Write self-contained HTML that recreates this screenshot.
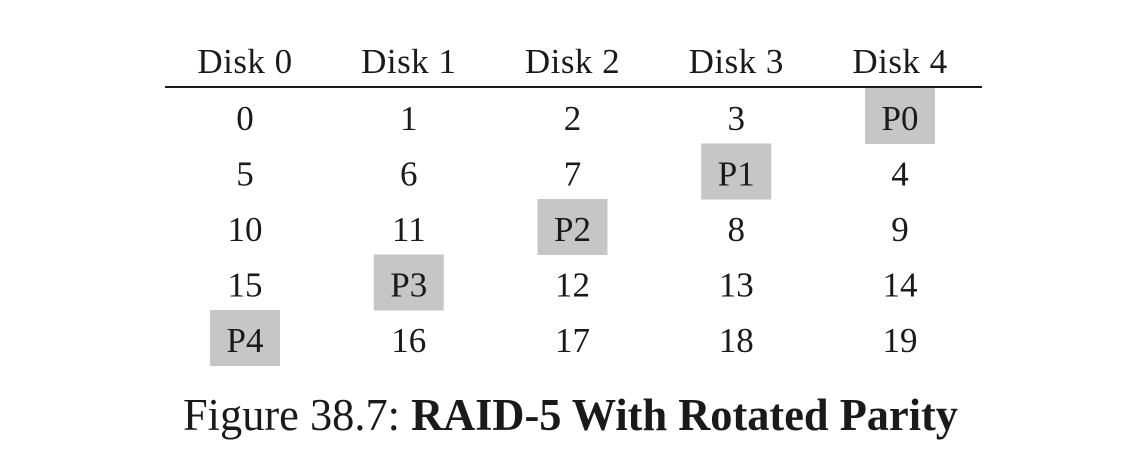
<!DOCTYPE html>
<html><head><meta charset="utf-8"><style>
html,body{margin:0;padding:0;background:#fff;}
svg{display:block;}
text{font-family:"Liberation Serif",serif;fill:#1a1a1a;}
</style></head><body>
<svg id="fig" width="1128" height="470" viewBox="0 0 1128 470">
<line x1="165" y1="87" x2="982" y2="87" stroke="#1a1a1a" stroke-width="2"/>
<text x="183" y="430" font-size="45" textLength="775" lengthAdjust="spacingAndGlyphs">Figure 38.7: <tspan font-weight="bold">RAID-5 With Rotated Parity</tspan></text>
</svg>
<script>
const disks = ["Disk 0","Disk 1","Disk 2","Disk 3","Disk 4"];
const row0 = ["0","1","2","3","P0"];
const row1 = ["5","6","7","P1","4"];
const row2 = ["10","11","P2","8","9"];
const row3 = ["15","P3","12","13","14"];
const row4 = ["P4","16","17","18","19"];
const rows = [row0,row1,row2,row3,row4];
const colX = i => 245 + i*163.75;
const rowY = r => 130 + r*55.5;
const svg = document.getElementById('fig');
const NS = 'http://www.w3.org/2000/svg';
disks.forEach((d,i)=>{
  const t = document.createElementNS(NS,'text');
  t.setAttribute('x',colX(i)); t.setAttribute('y',73);
  t.setAttribute('text-anchor','middle'); t.setAttribute('font-size','35');
  t.setAttribute('letter-spacing','0.5');
  t.textContent = d;
  
  
  svg.appendChild(t);
});
rows.forEach((row,r)=>{
  row.forEach((v,i)=>{
    if (v.startsWith('P')) {
      const b = document.createElementNS(NS,'rect');
      b.setAttribute('x',colX(i)-35); b.setAttribute('y',rowY(r)-42);
      b.setAttribute('width',70); b.setAttribute('height',56);
      b.setAttribute('fill','#c6c6c6');
      
      
      svg.appendChild(b);
    }
    const t = document.createElementNS(NS,'text');
    t.setAttribute('x',colX(i)); t.setAttribute('y',rowY(r));
    t.setAttribute('text-anchor','middle'); t.setAttribute('font-size','35');
    t.textContent = v;
    
    
    svg.appendChild(t);
  });
});
</script>
</body></html>
